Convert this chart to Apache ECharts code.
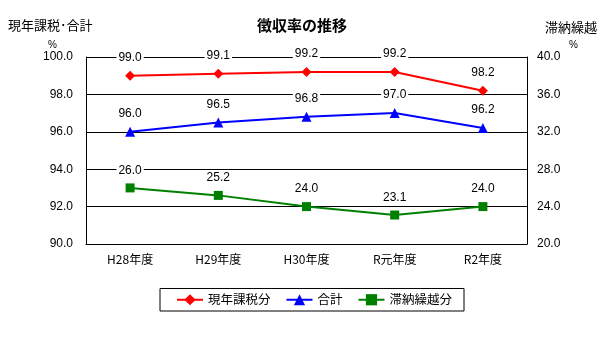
<!DOCTYPE html>
<html><head><meta charset="utf-8">
<script src="https://cdn.jsdelivr.net/npm/echarts@6/dist/echarts.min.js"></script>
<style>html,body{margin:0;padding:0;background:#fff}#c{width:604px;height:342px}</style>
</head><body><div id="c"></div>
<script>
const categories = ['H28年度','H29年度','H30年度','R元年度','R2年度'];
const genNen = [99.0, 99.1, 99.2, 99.2, 98.2];
const gokei = [96.0, 96.5, 96.8, 97.0, 96.2];
const tainou = [26.0, 25.2, 24.0, 23.1, 24.0];
const leftTicks = [90, 100, 2];
const rightTicks = [20, 40, 4];

const FONT = '"Liberation Sans", "Noto Sans CJK JP", sans-serif';
const JP = '"Noto Sans CJK JP", sans-serif';
const chart = echarts.init(document.getElementById('c'));
const lbl = {show:true, position:'top', distance:7, color:'#000', fontSize:12, fontFamily:FONT,
  backgroundColor:'#fff', padding:[0,2], formatter:p=>p.value.toFixed(1)};
chart.setOption({
  animation:false,
  title:{text:'徴収率の推移', left:'center', top:13, textStyle:{fontSize:15, fontWeight:'bold', color:'#000', fontFamily:JP}},
  grid:{left:86, right:77, top:57, bottom:98},
  legend:{bottom:31, left:160, borderColor:'#000', borderWidth:1, padding:[5,12,5,16], itemGap:15, itemWidth:26,
    textStyle:{fontSize:12.5, color:'#000', fontFamily:JP}, data:['現年課税分','合計','滞納繰越分']},
  graphic:[
    {type:'text', left:8, top:19, style:{text:'現年課税･合計', fontSize:13, fill:'#000', fontFamily:JP}},
    {type:'text', left:48, top:40, style:{text:'%', fontSize:10, fill:'#000', fontFamily:FONT}},
    {type:'text', left:545, top:21, style:{text:'滞納繰越', fontSize:13, fill:'#000', fontFamily:JP}},
    {type:'text', left:569, top:40, style:{text:'%', fontSize:10, fill:'#000', fontFamily:FONT}}
  ],
  xAxis:{type:'category', data:categories, boundaryGap:true,
    axisLine:{lineStyle:{color:'#000'}}, axisTick:{inside:true, length:5, lineStyle:{color:'#000'}},
    axisLabel:{color:'#000', fontSize:12, fontFamily:JP, margin:9}},
  yAxis:[
    {type:'value', min:leftTicks[0], max:leftTicks[1], interval:leftTicks[2],
     axisLine:{show:true, lineStyle:{color:'#000'}}, axisTick:{show:false},
     splitLine:{lineStyle:{color:'#000', width:1}},
     axisLabel:{color:'#000', fontSize:12, fontFamily:FONT, formatter:v=>v.toFixed(1), margin:13}},
    {type:'value', min:rightTicks[0], max:rightTicks[1], interval:rightTicks[2],
     axisLine:{show:true, lineStyle:{color:'#000'}}, axisTick:{show:false}, splitLine:{show:false},
     axisLabel:{color:'#000', fontSize:12, fontFamily:FONT, formatter:v=>v.toFixed(1), margin:10}}
  ],
  series:[
    {name:'現年課税分', type:'line', data:genNen, yAxisIndex:0, symbol:'diamond', symbolSize:10,
     itemStyle:{color:'#ff0000'}, lineStyle:{color:'#ff0000', width:2}, label:lbl},
    {name:'合計', type:'line', data:gokei, yAxisIndex:0, symbol:'triangle', symbolSize:10,
     itemStyle:{color:'#0000ff'}, lineStyle:{color:'#0000ff', width:2}, label:lbl},
    {name:'滞納繰越分', type:'line', data:tainou, yAxisIndex:1, symbol:'rect', symbolSize:9,
     itemStyle:{color:'#008000'}, lineStyle:{color:'#008000', width:2}, label:lbl}
  ]
});
</script></body></html>
